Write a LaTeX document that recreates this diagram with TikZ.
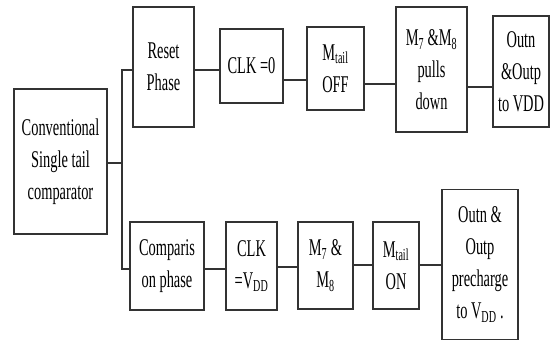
\documentclass[tikz,border=0pt]{standalone}
\usepackage{fontspec}
\setmainfont{Liberation Serif}[FakeStretch=0.6]
\usepackage{tikz}
\usetikzlibrary{positioning,calc}
\tikzset{
  blk/.style={draw=black!80, line width=1.3pt, align=center, inner sep=1pt,
    font=\fontsize{24}{32}\selectfont},
  wire/.style={draw=black!80, line width=1.3pt}
}

\begin{document}
\begin{tikzpicture}[x=1pt, y=-1pt]
  \useasboundingbox (0,0) rectangle (552,341);

  % start block
  \node[blk, minimum width=93pt, minimum height=145pt] (conv) at (60.5,161.5)
    {Conventional\\Single tail\\comparator};

  % reset phase row
  \node[blk, minimum width=61pt, minimum height=120pt] (reset) at (163.5,67) {Reset\\Phase};
  \node[blk, minimum width=63pt, minimum height=74pt] (clkz) at (251.5,66) {CLK =0};
  \node[blk, minimum width=57pt, minimum height=83pt] (mtoff) at (335.5,68.5)
    {M\textsubscript{tail}\\OFF};
  \node[blk, minimum width=71pt, minimum height=125pt] (mpd) at (431.5,69.5)
    {M\textsubscript{7} \&M\textsubscript{8}\\pulls\\down};
  \node[blk, minimum width=56pt, minimum height=111pt] (outvdd) at (521,71.5)
    {Outn\\\&Outp\\to VDD};

  % comparison phase row
  \node[blk, minimum width=74pt, minimum height=88pt] (comp) at (167,266) {Comparis\\on phase};
  \node[blk, minimum width=51pt, minimum height=88pt] (clkv) at (251.5,266)
    {CLK\\=V\textsubscript{DD}};
  \node[blk, minimum width=55pt, minimum height=87pt] (mse) at (325.5,265.5)
    {M\textsubscript{7} \&\\M\textsubscript{8}};
  \node[blk, minimum width=46pt, minimum height=87pt] (mton) at (396,265.5)
    {M\textsubscript{tail}\\ON};
  \node[blk, minimum width=76pt, minimum height=150pt] (outpre) at (480,264.5)
    {Outn \&\\Outp\\precharge\\to V\textsubscript{DD} .};

  % branch
  \coordinate (br) at (122,163);
  \coordinate (bt) at (122,70);
  \coordinate (bb) at (122,269);
  \draw[wire] (conv.east |- br) -- (br);
  \draw[wire] (reset.west |- bt) -- (bt) -- (bb) -- (comp.west |- bb);

  % links
  \foreach \a/\b/\y in {reset/clkz/70, clkz/mtoff/80, mtoff/mpd/84, mpd/outvdd/87,
                        comp/clkv/269, clkv/mse/267, mse/mton/265, mton/outpre/265}
    \draw[wire] (\a.east |- 0,\y) -- (\b.west |- 0,\y);
\end{tikzpicture}
\end{document}
